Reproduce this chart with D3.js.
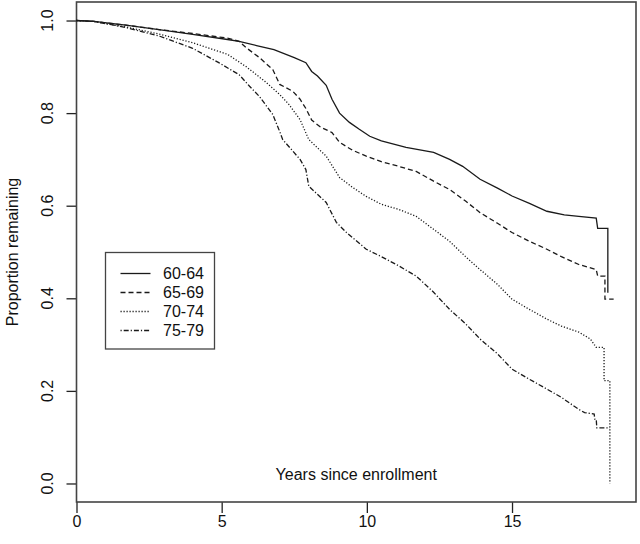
<!DOCTYPE html>
<html>
<head>
<meta charset="utf-8">
<script src="https://cdn.jsdelivr.net/npm/d3@7"></script>
<style>
  body { margin: 0; background: #fff; }
  text { font-family: "Liberation Sans", Arial, sans-serif; fill: #111; }
</style>
</head>
<body>
<div id="chart"></div>
<script>
//===============================
//  1.  Data
//===============================

var groups = ["60-64", "65-69", "70-74", "75-79"];

var time6064 = [0, 0.6, 1.7, 2.9, 4.0, 5.2, 5.6, 6.2, 6.8, 7.5, 7.9, 8.1, 8.3, 8.6, 8.8, 9.06, 9.4, 9.74, 10.1, 10.5, 11.35, 12.3, 12.85, 13.3, 13.9, 14.5, 15.0, 15.6, 16.2, 16.8, 17.3, 17.9, 17.95, 18.3, 18.3];
var surv6064 = [1.0, 0.998, 0.99, 0.98, 0.97, 0.959, 0.955, 0.946, 0.937, 0.92, 0.909, 0.89, 0.88, 0.86, 0.83, 0.80, 0.78, 0.765, 0.75, 0.74, 0.726, 0.715, 0.70, 0.685, 0.657, 0.638, 0.621, 0.605, 0.588, 0.58, 0.577, 0.573, 0.551, 0.551, 0.412];

var time6569 = [0, 0.6, 1.7, 2.9, 4.0, 5.2, 5.6, 5.85, 6.3, 6.76, 7.0, 7.45, 7.7, 7.9, 8.1, 8.4, 8.8, 9.06, 9.5, 9.98, 10.5, 11.1, 11.7, 12.3, 12.85, 13.4, 13.9, 14.5, 15.0, 15.6, 16.2, 16.7, 17.3, 17.9, 17.95, 18.2, 18.2, 18.5];
var surv6569 = [1.0, 0.998, 0.99, 0.98, 0.972, 0.962, 0.955, 0.941, 0.92, 0.894, 0.862, 0.847, 0.83, 0.81, 0.785, 0.77, 0.758, 0.737, 0.72, 0.707, 0.695, 0.685, 0.674, 0.653, 0.635, 0.61, 0.585, 0.562, 0.542, 0.523, 0.506, 0.49, 0.473, 0.462, 0.448, 0.448, 0.398, 0.398];

var time7074 = [0, 0.6, 1.7, 2.9, 4.0, 5.2, 5.85, 6.5, 7.0, 7.3, 7.7, 8.0, 8.6, 9.06, 9.5, 9.98, 10.5, 11.1, 11.7, 12.3, 12.85, 13.4, 13.9, 14.5, 15.0, 15.6, 16.2, 16.7, 17.3, 17.7, 17.9, 18.17, 18.17, 18.37, 18.37];
var surv7074 = [1.0, 0.998, 0.986, 0.97, 0.952, 0.927, 0.9, 0.868, 0.84, 0.82, 0.786, 0.743, 0.707, 0.661, 0.64, 0.62, 0.603, 0.592, 0.577, 0.549, 0.523, 0.49, 0.462, 0.43, 0.398, 0.376, 0.355, 0.34, 0.327, 0.312, 0.294, 0.294, 0.222, 0.222, 0.0];

var time7579 = [0, 0.6, 1.7, 2.87, 4.0, 4.9, 5.6, 5.96, 6.3, 6.76, 7.0, 7.1, 7.7, 7.9, 8.0, 8.6, 8.95, 9.3, 9.98, 10.5, 11.1, 11.7, 12.3, 12.85, 13.4, 13.9, 14.5, 15.0, 15.6, 16.2, 16.7, 17.3, 17.5, 17.83, 17.85, 17.9, 17.92, 18.37];
var surv7579 = [1.0, 0.998, 0.985, 0.966, 0.94, 0.909, 0.883, 0.858, 0.836, 0.797, 0.76, 0.743, 0.70, 0.678, 0.642, 0.607, 0.564, 0.542, 0.506, 0.49, 0.47, 0.448, 0.413, 0.376, 0.345, 0.312, 0.28, 0.247, 0.225, 0.204, 0.186, 0.16, 0.153, 0.15, 0.139, 0.139, 0.12, 0.12];

var xTicks = [0, 5, 10, 15];
var yTicks = [0.0, 0.2, 0.4, 0.6, 0.8, 1.0];

var times = [time6064, time6569, time7074, time7579];
var survs = [surv6064, surv6569, surv7074, surv7579];
var dashes = [null, "5,3", "1.2,1.8", "1.2,2,5,2"];

//===============================
//  2.  Set up chart area
//===============================

var svgWidth = 640;
var svgHeight = 544;

var box = { left: 76.5, right: 636, top: 2, bottom: 502 };

var svg = d3.select("#chart")
  .append("svg")
  .attr("width", svgWidth)
  .attr("height", svgHeight);

var xScale = d3.scaleLinear()
  .domain([0, 19.27])
  .range([box.left, box.right]);

var yScale = d3.scaleLinear()
  .domain([-0.04, 1.04])
  .range([box.bottom, box.top]);

//===============================
//  3.  Axes
//===============================

var xAxis = d3.axisBottom(xScale)
  .tickValues(xTicks)
  .tickSize(11)
  .tickPadding(3)
  .tickFormat(d3.format("d"));

var xg = svg.append("g")
  .attr("transform", `translate(0, ${box.bottom})`)
  .call(xAxis);
xg.select(".domain").remove();
xg.selectAll("line").attr("stroke", "#222").attr("stroke-width", 1.3);
xg.selectAll("text").attr("font-size", 16).style("font-family", "Liberation Sans, Arial, sans-serif").attr("fill", "#111");

var yAxis = d3.axisLeft(yScale)
  .tickValues(yTicks)
  .tickSize(10)
  .tickFormat("");

var yg = svg.append("g")
  .attr("transform", `translate(${box.left}, 0)`)
  .call(yAxis);
yg.select(".domain").remove();
yg.selectAll("line").attr("stroke", "#222").attr("stroke-width", 1.3);

// rotated y tick labels (R style)
svg.selectAll(".ylab")
  .data(yTicks)
  .enter()
  .append("text")
  .attr("class", "ylab")
  .attr("transform", d => `translate(53, ${yScale(d)}) rotate(-90)`)
  .attr("text-anchor", "middle")
  .attr("font-size", 16)
  .text(d3.format(".1f"));

// plot box
svg.append("rect")
  .attr("x", box.left)
  .attr("y", box.top)
  .attr("width", box.right - box.left)
  .attr("height", box.bottom - box.top)
  .attr("fill", "none")
  .attr("stroke", "#444")
  .attr("stroke-width", 1.6);

// axis titles
svg.append("text")
  .attr("transform", `translate(18, ${(box.top + box.bottom) / 2}) rotate(-90)`)
  .attr("text-anchor", "middle")
  .attr("font-size", 16)
  .text("Proportion remaining");

svg.append("text")
  .attr("x", (box.left + box.right) / 2)
  .attr("y", 480)
  .attr("text-anchor", "middle")
  .attr("font-size", 16)
  .text("Years since enrollment");

//===============================
//  4.  Survival curves
//===============================

var line = d3.line()
  .x(d => xScale(d[0]))
  .y(d => yScale(d[1]));

groups.forEach((g, i) => {
  var pts = d3.zip(times[i], survs[i]);
  svg.append("path")
    .datum(pts)
    .attr("fill", "none")
    .attr("stroke", "#1a1a1a")
    .attr("stroke-width", 1.3)
    .attr("stroke-dasharray", dashes[i])
    .attr("d", line);
});

//===============================
//  5.  Legend
//===============================

var legend = svg.append("g");

legend.append("rect")
  .attr("x", 105.5)
  .attr("y", 252.5)
  .attr("width", 109)
  .attr("height", 96.5)
  .attr("fill", "#fff")
  .attr("stroke", "#444")
  .attr("stroke-width", 1.3);

groups.forEach((g, i) => {
  var y = 273.5 + i * 19;
  legend.append("line")
    .attr("x1", 120.5)
    .attr("x2", 150.5)
    .attr("y1", y)
    .attr("y2", y)
    .attr("stroke", "#1a1a1a")
    .attr("stroke-width", 1.3)
    .attr("stroke-dasharray", dashes[i]);
  legend.append("text")
    .attr("x", 163)
    .attr("y", y)
    .attr("dy", "0.36em")
    .attr("font-size", 16)
    .text(g);
});
</script>
</body>
</html>
